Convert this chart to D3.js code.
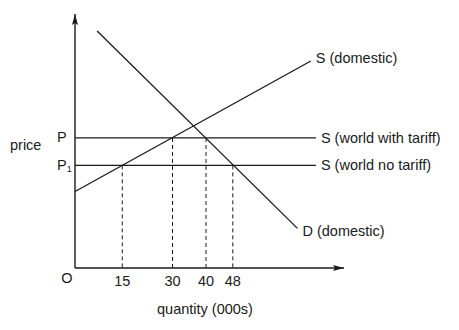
<!DOCTYPE html>
<html>
<head>
<meta charset="utf-8">
<script src="https://cdn.jsdelivr.net/npm/d3@7/dist/d3.min.js"></script>
<style>
  html, body { margin: 0; padding: 0; background: #fff; }
  text { font-family: "Liberation Sans", Arial, sans-serif; fill: #1a1a1a; }
</style>
</head>
<body>
<svg id="chart" width="459" height="330"></svg>
<script>
// ---- data (quantity in 000s, price in arbitrary units) ----
const quantityTicks = [15, 30, 40, 48];
const priceLabels = ["P", "P1"];
const priceValues = [51.2, 40.4];
const supplyDomestic = [[0.9, 30.1], [71.3, 81.5]];
const demandDomestic = [[7.5, 93.3], [67.3, 15.6]];
const worldWithTariff = [[0.9, 51.2], [72.8, 51.2]];
const worldNoTariff = [[0.9, 40.4], [72.8, 40.4]];
const dropQuantities = [15, 30, 40, 48];
const dropPrices = [40.4, 51.2, 51.2, 40.4];
const curveLabels = ["S (domestic)", "S (world with tariff)", "S (world no tariff)", "D (domestic)"];

// ---- layout ----
const svg = d3.select("#chart");
const x = d3.scaleLinear().domain([0, 80]).range([72, 340]);
const y = d3.scaleLinear().domain([0, 100]).range([268, 14]);
const axisX = 75;            // y-axis position (px)
const ink = "#1a1a1a";
const fs = 14.5;
const line = d3.line().x(d => x(d[0])).y(d => y(d[1]));

// arrow marker
const defs = svg.append("defs");
defs.append("marker")
  .attr("id", "arr").attr("viewBox", "0 0 11 6")
  .attr("refX", 11).attr("refY", 3)
  .attr("markerWidth", 11).attr("markerHeight", 6)
  .attr("markerUnits", "userSpaceOnUse")
  .attr("orient", "auto")
  .append("path").attr("d", "M0,0 L11,3 L0,6 L2,3 Z").attr("fill", ink);

// axes
svg.append("line")
  .attr("x1", axisX).attr("y1", y(0))
  .attr("x2", axisX).attr("y2", y(100))
  .attr("stroke", ink).attr("stroke-width", 1.4)
  .attr("marker-end", "url(#arr)");
svg.append("line")
  .attr("x1", axisX).attr("y1", y(0))
  .attr("x2", x(81.2)).attr("y2", y(0))
  .attr("stroke", ink).attr("stroke-width", 1.4)
  .attr("marker-end", "url(#arr)");

// dashed drop lines
svg.selectAll("line.drop").data(dropQuantities).join("line")
  .attr("class", "drop")
  .attr("x1", d => x(d)).attr("x2", d => x(d))
  .attr("y1", (d, i) => y(dropPrices[i])).attr("y2", y(0))
  .attr("stroke", ink).attr("stroke-width", 1)
  .attr("stroke-dasharray", "4,3");

// curves
const curves = [supplyDomestic, worldWithTariff, worldNoTariff, demandDomestic];
svg.selectAll("path.curve").data(curves).join("path")
  .attr("class", "curve")
  .attr("d", line)
  .attr("fill", "none").attr("stroke", ink).attr("stroke-width", 1.3);

// curve labels
const labelOffsets = [[5, 2], [5, 5], [5, 5], [5, 8]];
svg.selectAll("text.clabel").data(curves).join("text")
  .attr("class", "clabel")
  .attr("x", (d, i) => x(d[1][0]) + labelOffsets[i][0])
  .attr("y", (d, i) => y(d[1][1]) + labelOffsets[i][1])
  .attr("font-size", fs)
  .text((d, i) => curveLabels[i]);

// price labels
priceLabels.forEach((lab, i) => {
  const t = svg.append("text")
    .attr("x", 57).attr("y", y(priceValues[i]) + 4.5)
    .attr("font-size", fs);
  t.append("tspan").text(lab[0]);
  if (lab.length > 1) {
    t.append("tspan").attr("font-size", 9).attr("dy", 2).text(lab.slice(1));
  }
});
svg.append("text").attr("x", 10).attr("y", 150).attr("font-size", fs).text("price");

// quantity ticks
svg.selectAll("text.qtick").data(quantityTicks).join("text")
  .attr("class", "qtick")
  .attr("x", d => x(d)).attr("y", 286)
  .attr("text-anchor", "middle").attr("font-size", fs)
  .text(d => d);
svg.append("text").attr("x", 67).attr("y", 283).attr("text-anchor", "middle")
  .attr("font-size", fs).text("O");
svg.append("text").attr("x", 205).attr("y", 314).attr("text-anchor", "middle")
  .attr("font-size", fs).text("quantity (000s)");
</script>
</body>
</html>
